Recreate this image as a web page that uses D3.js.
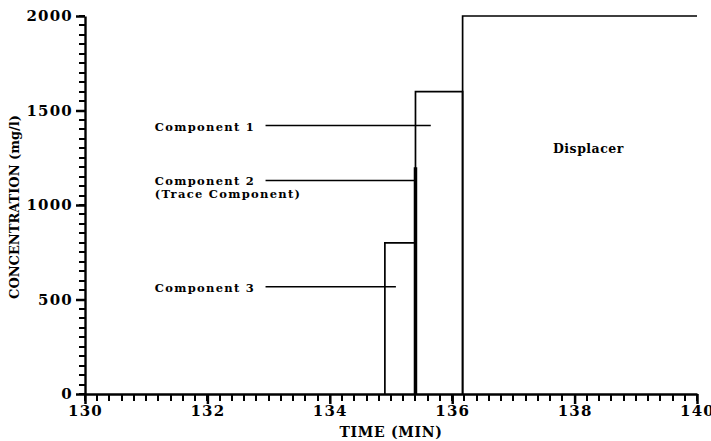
<!DOCTYPE html>
<html>
<head>
<meta charset="utf-8">
<script src="https://cdn.jsdelivr.net/npm/d3@7"></script>
<style>
  body { margin: 0; background: #fff; }
  text { font-family: "DejaVu Serif", "Liberation Serif", serif; font-weight: bold; fill: #000; }
</style>
</head>
<body>
<svg id="chart" width="711" height="441"></svg>
<script>
/** Chart data */
const xMajorTicks = [130, 132, 134, 136, 138, 140];
const yMajorTicks = [0, 500, 1000, 1500, 2000];
const xMinorTicks = d3.range(0, 51).map(i => 130 + i * 0.2);
const yMinorTicks = d3.range(0, 41).map(i => i * 50);

// Rectangular bands: start time, end time, concentration
const bandNames = ['Component 3', 'Component 1', 'Displacer'];
const bandStart = [134.9, 135.4, 136.17];
const bandEnd = [135.4, 136.17, 140];
const bandConc = [800, 1600, 2000];

// Trace component spike
const traceTime = 135.4;
const traceConc = 1200;

// Annotation labels with leader lines (line height and end time)
const labelLines = [['Component 1'], ['Component 2', '(Trace Component)'], ['Component 3']];
const leaderConc = [1420, 1130, 568];
const leaderEnd = [135.65, 135.4, 135.08];
const leaderStart = 132.95;
const labelTime = 131.14;

const svg = d3.select('#chart');
const margin = { top: 16, right: 14, bottom: 47, left: 85 };
const width = 711, height = 441;

// Scales
const x = d3.scaleLinear().domain([130, 140]).range([margin.left, width - margin.right]);
const y = d3.scaleLinear().domain([0, 2000]).range([height - margin.bottom, margin.top]);
const x0 = Math.round(x(130)), y0 = Math.round(y(0));

const styleTickText = sel => sel
    .style('font-size', '15px')
    .style('letter-spacing', '1.2px')
    .style('font-family', '"DejaVu Serif", serif')
    .style('font-weight', 'bold');

// Major x axis (labels + domain line)
const xAxis = svg.append('g')
    .attr('transform', `translate(0, ${y0})`)
    .call(d3.axisBottom(x).tickValues(xMajorTicks).tickFormat(d3.format('d')).tickSize(10).tickSizeOuter(0).tickPadding(1));
xAxis.select('.domain').attr('stroke', '#000').attr('stroke-width', 2.4);
xAxis.selectAll('.tick line').attr('stroke', '#000').attr('stroke-width', 2.5);
xAxis.selectAll('text').call(styleTickText);

// Major y axis
const yAxis = svg.append('g')
    .attr('transform', `translate(${x0}, 0)`)
    .call(d3.axisLeft(y).tickValues(yMajorTicks).tickFormat(d3.format('d')).tickSize(9).tickSizeOuter(0).tickPadding(3));
yAxis.select('.domain').attr('stroke', '#000').attr('stroke-width', 2.4);
yAxis.selectAll('.tick line').attr('stroke', '#000').attr('stroke-width', 2.5);
yAxis.selectAll('text').call(styleTickText);

// Minor tick marks
svg.append('g')
    .selectAll('rect')
    .data(xMinorTicks)
    .enter()
    .append('rect')
    .attr('x', d => Math.round(x(d)) - 1)
    .attr('y', y0)
    .attr('width', 2)
    .attr('height', 7)
    .attr('fill', '#000');

svg.append('g')
    .selectAll('rect')
    .data(yMinorTicks)
    .enter()
    .append('rect')
    .attr('x', x0 - 6)
    .attr('y', d => Math.round(y(d)) - 1)
    .attr('width', 6)
    .attr('height', 2)
    .attr('fill', '#000');

// Axis titles
svg.append('text')
    .attr('x', (x(130) + x(140)) / 2)
    .attr('y', 437)
    .attr('text-anchor', 'middle')
    .style('font-size', '14px')
    .style('letter-spacing', '0.7px')
    .text('TIME  (MIN)');

svg.append('text')
    .attr('transform', `translate(19, ${207}) rotate(-90)`)
    .attr('text-anchor', 'middle')
    .style('font-size', '13px')
    .text('CONCENTRATION  (mg/l)');

// Concentration bands
svg.append('g')
    .selectAll('path')
    .data(bandNames.map((name, i) => ({ name, x0: bandStart[i], x1: bandEnd[i], c: bandConc[i] })))
    .enter()
    .append('path')
    .attr('fill', 'none')
    .attr('stroke', '#000')
    .attr('stroke-width', 1.7)
    .attr('d', d => `M${x(d.x0)},${y(0)}V${y(d.c)}H${x(d.x1)}` + (d.x1 < 140 ? `V${y(0)}` : ''));

// Trace spike
svg.append('line')
    .attr('x1', x(traceTime)).attr('x2', x(traceTime))
    .attr('y1', y(0)).attr('y2', y(traceConc))
    .attr('stroke', '#000')
    .attr('stroke-width', 3.5);

// Annotations
labelLines.forEach((lines, i) => {
    const ly = y(leaderConc[i]);
    svg.append('line')
        .attr('x1', x(leaderStart)).attr('x2', x(leaderEnd[i]))
        .attr('y1', ly).attr('y2', ly)
        .attr('stroke', '#000')
        .attr('stroke-width', 1.5);
    lines.forEach((t, j) => {
        svg.append('text')
            .attr('x', x(labelTime))
            .attr('y', ly + 5 + j * 12.5)
            .style('font-size', '11.5px')
            .style('letter-spacing', '1.3px')
            .text(t);
    });
});

svg.append('text')
    .attr('x', 553)
    .attr('y', 153)
    .style('font-size', '12.5px')
    .style('letter-spacing', '0.5px')
    .text('Displacer');
</script>
</body>
</html>
